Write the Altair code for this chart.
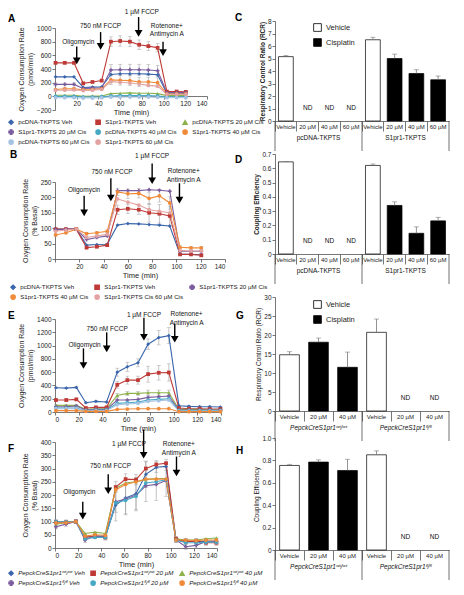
import altair as alt
import pandas as pd

FONT = "Liberation Sans"
BLUE, RED, GREEN, PURPLE = "#3A66AC", "#BF3A36", "#8DB24C", "#7A5C9E"
CYAN, ORANGE, PINK, LBLUE = "#45A8C4", "#F08A38", "#E3A3A1", "#A7C3E4"

a_time = [0.5, 9, 17.5, 26, 34.5, 43, 51.5, 60, 69, 77.5, 86, 94.5, 103, 112, 120.5]
a_names = ["pcDNA-TKPTS Veh", "S1pr1-TKPTS Veh", "pcDNA-TKPTS 20 µM Cis",
           "S1pr1-TKPTS 20 µM Cis", "pcDNA-TKPTS 40 µM Cis", "S1pr1-TKPTS 40 µM Cis",
           "pcDNA-TKPTS 60 µM Cis", "S1pr1-TKPTS 60 µM Cis"]
a_pc_veh = [285, 285, 285, 130, 135, 140, 320, 330, 330, 330, 325, 315, 45, 45, 40]
a_s1_veh = [490, 490, 490, 190, 210, 230, 800, 810, 800, 755, 735, 710, 70, 70, 65]
a_pc_20 = [15, 15, 15, 0, 5, 5, 40, 45, 50, 45, 45, 40, 10, 10, 10]
a_s1_20 = [175, 175, 175, 115, 120, 125, 385, 390, 390, 390, 385, 375, 55, 55, 55]
a_pc_40 = [0, 0, 0, -10, -10, -5, 5, 10, 10, 10, 10, 5, -5, -5, -5]
a_s1_40 = [100, 110, 110, 95, 100, 110, 240, 235, 230, 210, 210, 200, 35, 35, 35]
a_pc_60 = [-20, -20, -20, -25, -25, -20, -10, -10, -10, -10, -10, -15, -20, -20, -20]
a_s1_60 = [90, 90, 95, 85, 90, 100, 215, 205, 195, 180, 160, 150, 30, 30, 30]
a_err_s1_veh = [15, 15, 15, 10, 10, 10, 70, 75, 75, 70, 65, 60, 15, 15, 15]
a_err_s1_20 = [20, 20, 20, 15, 15, 15, 80, 80, 80, 80, 80, 80, 15, 15, 15]
a_err_s1_40 = [15, 15, 15, 10, 10, 10, 70, 70, 70, 70, 70, 70, 10, 10, 10]

b_time = [0.5, 9, 17.5, 26, 34.5, 43, 51.5, 60, 69, 77.5, 86, 94.5, 103, 112, 120.5]
b_names = ["pcDNA-TKPTS Veh", "S1pr1-TKPTS Veh", "S1pr1-TKPTS 20 µM Cis",
           "S1pr1-TKPTS 40 µM Cis", "S1pr1-TKPTS Cis 60 µM Cis"]
b_pc_veh = [97, 97, 98, 45, 47, 48, 110, 115, 114, 112, 110, 107, 15, 15, 14]
b_s1_veh = [97, 97, 97, 37, 40, 45, 160, 163, 160, 150, 147, 140, 15, 15, 12]
b_s1_20 = [95, 96, 97, 63, 70, 75, 222, 222, 222, 225, 223, 220, 25, 25, 25]
b_s1_40 = [78, 85, 97, 82, 85, 90, 218, 212, 213, 197, 205, 182, 38, 36, 36]
b_s1_60 = [90, 94, 97, 70, 75, 80, 195, 185, 175, 160, 155, 150, 28, 26, 26]
b_err_s1_veh = [3, 3, 3, 4, 4, 4, 15, 15, 15, 30, 30, 30, 4, 4, 4]
b_err_s1_40 = [3, 3, 3, 4, 4, 4, 12, 15, 15, 20, 20, 20, 5, 5, 5]

e_time = [0.8, 9.5, 18, 26, 34.5, 43.5, 52.5, 61, 70, 78.5, 87.5, 96, 104.5, 113, 122, 130.5, 139.5]
e_names = ["E1", "E2", "E3", "E4", "E5", "E6", "E7"]
e_blue = [365, 360, 370, 140, 160, 150, 600, 680, 740, 1020, 1120, 1150, 95, 85, 80, 80, 75]
e_red = [180, 180, 190, 60, 70, 70, 410, 480, 480, 570, 590, 595, 60, 50, 50, 45, 45]
e_green = [100, 100, 100, 40, 50, 50, 250, 280, 280, 290, 290, 290, 40, 40, 40, 35, 35]
e_purple = [80, 80, 90, 30, 40, 40, 180, 180, 190, 220, 230, 240, 30, 30, 30, 30, 30]
e_cyan = [60, 60, 60, 20, 30, 30, 130, 140, 150, 180, 190, 200, 20, 20, 20, 20, 20]
e_lblue = [50, 50, 50, 15, 20, 20, 110, 120, 130, 160, 170, 180, 15, 15, 15, 15, 15]
e_orange = [20, 20, 20, 10, 10, 10, 40, 45, 50, 50, 50, 50, 5, 5, 5, 5, 5]
e_err_blue = [10, 10, 10, 10, 10, 10, 60, 70, 60, 80, 110, 120, 10, 10, 10, 10, 10]
e_err_red = [20, 20, 20, 10, 10, 10, 50, 60, 60, 120, 110, 130, 10, 10, 10, 10, 10]
e_err_green = [10, 10, 10, 10, 10, 10, 30, 30, 30, 40, 40, 40, 10, 10, 10, 10, 10]

f_time = [0.8, 9.5, 18, 26, 34.5, 43.5, 52.5, 61, 70, 78.5, 87.5, 96, 104.5, 113, 122, 130.5, 139.5]
f_names = ["PepckCreS1pr1ʷᵗ/ʷᵗ Veh", "PepckCreS1pr1ʷᵗ/ʷᵗ 20 µM", "PepckCreS1pr1ʷᵗ/ʷᵗ 40 µM",
           "PepckCreS1pr1ᶠˡ/ᶠˡ Veh", "PepckCreS1pr1ᶠˡ/ᶠˡ 20 µM", "PepckCreS1pr1ᶠˡ/ᶠˡ 40 µM"]
f_blue = [100, 98, 100, 40, 45, 45, 162, 189, 205, 278, 305, 308, 30, 25, 25, 25, 25]
f_red = [98, 97, 100, 40, 45, 40, 230, 260, 258, 300, 315, 320, 35, 25, 25, 20, 20]
f_green = [90, 95, 100, 55, 60, 55, 225, 245, 250, 258, 262, 262, 35, 30, 30, 35, 38]
f_purple = [80, 90, 100, 30, 45, 40, 175, 185, 200, 235, 240, 255, 30, 5, 10, 25, 25]
f_cyan = [100, 98, 100, 35, 40, 40, 170, 180, 195, 245, 250, 258, 30, 20, 20, 22, 22]
f_orange = [95, 95, 100, 45, 50, 48, 220, 240, 250, 260, 260, 260, 30, 30, 28, 30, 30]
f_err_blue = [8, 8, 8, 10, 10, 10, 60, 60, 60, 50, 20, 15, 10, 10, 10, 10, 10]
f_err_purple = [8, 8, 8, 10, 10, 10, 40, 60, 60, 60, 60, 60, 10, 10, 10, 10, 10]
f_err_red = [5, 5, 5, 8, 8, 8, 20, 20, 20, 25, 15, 15, 8, 10, 10, 10, 10]

c_cats = ["Vehicle", "20 µM", "40 µM", "60 µM", "Vehicle", "20 µM", "40 µM", "60 µM"]
c_groups = ["pcDNA-TKPTS"] * 4 + ["S1pr1-TKPTS"] * 4
c_types = ["Vehicle", "Cisplatin", "Cisplatin", "Cisplatin", "Vehicle", "Cisplatin", "Cisplatin", "Cisplatin"]
c_vals = [5.15, None, None, None, 6.5, 5.0, 3.8, 3.3]
c_errs = [0.1, 0, 0, 0, 0.2, 0.35, 0.3, 0.3]
d_vals = [0.645, None, None, None, 0.62, 0.34, 0.145, 0.232]
d_errs = [0.002, 0, 0, 0, 0.01, 0.025, 0.045, 0.025]

g_cats = ["Vehicle", "20 µM", "40 µM", "Vehicle", "20 µM", "40 µM"]
g_groups = ["PepckCreS1pr1ʷᵗ/ʷᵗ"] * 3 + ["PepckCreS1pr1ᶠˡ/ᶠˡ"] * 3
g_types = ["Vehicle", "Cisplatin", "Cisplatin", "Vehicle", "Cisplatin", "Cisplatin"]
g_vals = [14.8, 18.1, 11.5, 20.7, None, None]
g_errs = [0.8, 1.1, 4.0, 3.5, 0, 0]
h_vals = [0.755, 0.785, 0.71, 0.85, None, None]
h_errs = [0.01, 0.02, 0.1, 0.035, 0, 0]


def long_df(times, names, series, errors):
    rows = []
    for n, vals in zip(names, series):
        errs = errors.get(n)
        for i, (t, v) in enumerate(zip(times, vals)):
            e = errs[i] if errs else 0
            rows.append({"t": t, "s": n, "v": v, "lo": v - e, "hi": v + e, "e": e})
    return pd.DataFrame(rows)


def line_panel(df, names, colors, shapes, ydom, yvals, w, h, ytitle, letter, lpos,
               arrows, labels, legend, x_offset=0, hide_zero=False):
    xs = alt.Scale(domain=[0, 140], nice=False, zero=False)
    ys = alt.Scale(domain=ydom, nice=False, zero=False)
    xkw = dict(values=list(range(0, 141, 20)), title="Time (min)", offset=x_offset,
               tickSize=3, labelPadding=1, titlePadding=2, titleFontSize=7.5)
    if hide_zero:
        xkw["labelExpr"] = "datum.value == 0 ? '' : datum.label"
    xax = alt.Axis(**xkw)
    yax = alt.Axis(values=yvals, title=ytitle, format="d", tickSize=3, labelPadding=1,
                   titlePadding=3)
    x = alt.X("t:Q", scale=xs, axis=xax)
    base = alt.Chart(df)
    eb = base.transform_filter("datum.e > 0")
    err = eb.mark_rule(color="#9a9a9a", strokeWidth=0.6).encode(
        x=x, y=alt.Y("lo:Q", scale=ys, axis=yax), y2="hi:Q")
    cap1 = eb.mark_tick(orient="horizontal", color="#9a9a9a", size=4, thickness=0.6).encode(
        x=x, y=alt.Y("hi:Q", scale=ys, axis=yax))
    cap2 = eb.mark_tick(orient="horizontal", color="#9a9a9a", size=4, thickness=0.6).encode(
        x=x, y=alt.Y("lo:Q", scale=ys, axis=yax))
    lines = base.mark_line(strokeWidth=1.1, point=alt.OverlayMarkDef(filled=True, size=14)).encode(
        x=x, y=alt.Y("v:Q", scale=ys, axis=yax),
        color=alt.Color("s:N", scale=alt.Scale(domain=names, range=colors), legend=legend),
        shape=alt.Shape("s:N", scale=alt.Scale(domain=names, range=shapes), legend=legend),
    )
    adf = pd.DataFrame(arrows, columns=["x", "y1", "y2"])
    shaft = alt.Chart(adf).mark_rule(color="black", strokeWidth=1.4).encode(
        x=alt.X("x:Q", scale=xs, axis=xax), y=alt.Y("y1:Q", scale=ys, axis=yax), y2="y2:Q")
    head = alt.Chart(adf).mark_point(shape="triangle-down", filled=True, color="black",
                                     size=60, opacity=1).encode(
        x=alt.X("x:Q", scale=xs, axis=xax), y=alt.Y("y2:Q", scale=ys, axis=yax))
    ldf = pd.DataFrame(labels, columns=["x", "y", "txt"])
    txt = alt.Chart(ldf).mark_text(fontSize=6.5, color="#111", lineBreak="\n").encode(
        x=alt.X("x:Q", scale=xs, axis=xax), y=alt.Y("y:Q", scale=ys, axis=yax), text="txt:N")
    let = alt.Chart(pd.DataFrame({"l": [letter]})).mark_text(
        align="left", baseline="top", fontWeight="bold", fontSize=10, color="black").encode(
        x=alt.value(lpos[0]), y=alt.value(lpos[1]), text="l:N")
    return alt.layer(err, cap1, cap2, lines, shaft, head, txt, let).properties(width=w, height=h)


def bar_panel(cats, groups, types, vals, errs, w, h, ydom, yvals, ytitle, bold, letter, lpos,
              legend, ylabel_expr=None):
    n = len(cats)
    keys = [c + "|" + g for c, g in zip(cats, groups)]
    df = pd.DataFrame({"key": keys, "cat": cats, "grp": groups, "typ": types,
                       "v": vals, "e": errs})
    df["hi"] = df["v"] + df["e"]
    xs = alt.Scale(domain=keys, paddingInner=0, paddingOuter=0)
    xax = alt.Axis(title=None, labelExpr="split(datum.value, '|')[0]", labelAngle=0,
                   bandPosition=0, tickSize=10, labelPadding=-8, labelFontSize=6,
                   labelBaseline="top")
    ys = alt.Scale(domain=ydom, nice=False)
    ykw = dict(values=yvals, title=ytitle, tickSize=3, labelPadding=1, titlePadding=2,
               titleFontSize=6.5, titleFontWeight="bold" if bold else "normal")
    if ylabel_expr:
        ykw["labelExpr"] = ylabel_expr
    yax = alt.Axis(**ykw)
    x = alt.X("key:N", scale=xs, axis=xax)
    base = alt.Chart(df)
    valid = base.transform_filter("datum.v != null")
    bars = valid.mark_bar(width={"band": 0.68}, stroke="black", strokeWidth=0.7).encode(
        x=x, y=alt.Y("v:Q", scale=ys, axis=yax),
        color=alt.Color("typ:N", scale=alt.Scale(domain=["Vehicle", "Cisplatin"],
                                                  range=["white", "black"]), legend=legend))
    eb = valid.mark_rule(color="#777", strokeWidth=0.8).encode(
        x=x, y=alt.Y("v:Q", scale=ys, axis=yax), y2="hi:Q")
    cap = valid.mark_tick(orient="horizontal", color="#777", size=5, thickness=0.8).encode(
        x=x, y=alt.Y("hi:Q", scale=ys, axis=yax))
    nd = base.transform_filter("datum.v == null").mark_text(
        text="ND", fontSize=6.5, color="#111").encode(x=x, y=alt.value(h - 13))
    half = n // 2
    sep_df = pd.DataFrame({"key": [keys[0], keys[half]]})
    seps = alt.Chart(sep_df).mark_rule(color="#333", strokeWidth=0.7).encode(
        x=alt.X("key:N", scale=xs, axis=xax, bandPosition=0),
        y=alt.value(h), y2=alt.value(h + 30))
    end = alt.Chart(pd.DataFrame({"key": [keys[-1]]})).mark_rule(color="#333", strokeWidth=0.7).encode(
        x=alt.X("key:N", scale=xs, axis=xax, bandPosition=1),
        y=alt.value(h), y2=alt.value(h + 30))
    if half % 2 == 0:
        gdf = pd.DataFrame({"key": [keys[half // 2 - 1], keys[half + half // 2 - 1]],
                            "grp": [groups[0], groups[-1]]})
        bp = 1
    else:
        gdf = pd.DataFrame({"key": [keys[half // 2], keys[half + half // 2]],
                            "grp": [groups[0], groups[-1]]})
        bp = 0.5
    glab = alt.Chart(gdf).mark_text(fontSize=6.5, color="#111", baseline="top",
                                    fontStyle="italic" if "Pepck" in groups[0] else "normal").encode(
        x=alt.X("key:N", scale=xs, axis=xax, bandPosition=bp), y=alt.value(h + 14), text="grp:N")
    let = alt.Chart(pd.DataFrame({"l": [letter]})).mark_text(
        align="left", baseline="top", fontWeight="bold", fontSize=10, color="black").encode(
        x=alt.value(lpos[0]), y=alt.value(lpos[1]), text="l:N")
    return alt.layer(bars, eb, cap, nd, seps, end, glab, let).properties(width=w, height=h)


def line_legend(x, y, italic=False):
    kw = dict(orient="none", legendX=x, legendY=y, columns=3, direction="horizontal",
              title=None, labelFontSize=6.2, symbolSize=20, symbolStrokeWidth=1.2,
              rowPadding=0, columnPadding=3, labelLimit=120, labelFont=FONT)
    if italic:
        kw["labelFontStyle"] = "italic"
    return alt.Legend(**kw)


def bar_legend(x, y):
    return alt.Legend(orient="none", legendX=x, legendY=y, title=None, symbolType="square",
                      symbolSize=60, symbolStrokeColor="black", symbolStrokeWidth=0.8,
                      labelFontSize=7.5, rowPadding=4, labelFont=FONT)


def spacer(hgt):
    return alt.Chart(pd.DataFrame({"a": [0]})).mark_point(opacity=0, size=1).encode(
        x=alt.value(0), y=alt.value(0)).properties(width=1, height=hgt)


A = line_panel(
    long_df(a_time, a_names, [a_pc_veh, a_s1_veh, a_pc_20, a_s1_20, a_pc_40, a_s1_40, a_pc_60, a_s1_60],
            {a_names[1]: a_err_s1_veh, a_names[3]: a_err_s1_20, a_names[5]: a_err_s1_40}),
    a_names, [BLUE, RED, GREEN, PURPLE, CYAN, ORANGE, LBLUE, PINK],
    ["diamond", "square", "triangle-up", "cross", "circle", "circle", "circle", "circle"],
    [-200, 1000], list(range(-200, 1001, 200)), 152, 82,
    ["Oxygen Consumption Rate", "(pmol/min)"], "A", (-47, -14),
    [(20, 730, 520), (42, 940, 730), (77, 1160, 920), (99.5, 800, 640)],
    [(21.5, 800, "Oligomycin"), (42, 1035, "750 nM FCCP"), (80, 1235, "1 µM FCCP"),
     (103, 1030, "Rotenone+\nAntimycin A")],
    line_legend(-47, 91), x_offset=-14, hide_zero=True)

B = line_panel(
    long_df(b_time, b_names, [b_pc_veh, b_s1_veh, b_s1_20, b_s1_40, b_s1_60],
            {b_names[1]: b_err_s1_veh, b_names[3]: b_err_s1_40}),
    b_names, [BLUE, RED, PURPLE, ORANGE, PINK],
    ["diamond", "square", "cross", "circle", "circle"],
    [0, 250], list(range(0, 251, 50)), 170, 77,
    ["Oxygen Consumption Rate", "(% Basal)"], "B", (-45, -32),
    [(24, 205, 150), (46, 262, 198), (80, 310, 254), (102.5, 246, 191)],
    [(24, 224, "Oligomycin"), (47, 281, "750 nM FCCP"), (80, 335, "1 µM FCCP"),
     (106, 285, "Rotenone+\nAntimycin A")],
    line_legend(-45, 102), hide_zero=True)

E = line_panel(
    long_df(e_time, e_names, [e_blue, e_red, e_green, e_purple, e_cyan, e_lblue, e_orange],
            {"E1": e_err_blue, "E2": e_err_red, "E3": e_err_green}),
    e_names, [BLUE, RED, GREEN, PURPLE, CYAN, LBLUE, ORANGE],
    ["diamond", "square", "triangle-up", "cross", "circle", "circle", "circle"],
    [0, 1400], list(range(0, 1401, 200)), 166, 93,
    ["Oxygen Consumption Rate", "(pmol/min)"], "E", (-47, -8),
    [(24, 958, 700), (43.6, 1198, 950), (75, 1420, 1125), (101, 1327, 1095)],
    [(25, 1010, "Oligomycin"), (44, 1255, "750 nM FCCP"), (75, 1465, "1 µM FCCP"),
     (111, 1470, "Rotenone+\nAntimycin A")],
    None)

F = line_panel(
    long_df(f_time, f_names, [f_blue, f_red, f_green, f_purple, f_cyan, f_orange],
            {f_names[0]: f_err_blue, f_names[3]: f_err_purple, f_names[1]: f_err_red}),
    f_names, [BLUE, RED, GREEN, PURPLE, CYAN, ORANGE],
    ["diamond", "square", "triangle-up", "cross", "circle", "circle"],
    [0, 400], list(range(0, 401, 50)), 162, 106,
    ["Oxygen Consumption Rate", "(% Basal)"], "F", (-47, 2),
    [(24, 175, 120), (46, 278, 216), (76.6, 447, 350), (105, 345, 283)],
    [(21, 210, "Oligomycin"), (48, 310, "750 nM FCCP"), (64, 393, "1 µM FCCP"),
     (107, 392, "Rotenone+\nAntimycin A")],
    line_legend(-47, 128, italic=True))

C = bar_panel(c_cats, c_groups, c_types, c_vals, c_errs, 174, 100, [0, 8], list(range(0, 9)),
              "Respiratory Control Ratio (RCR)", True, "C", (-40, -8), bar_legend(38, 2))
D = bar_panel(c_cats, c_groups, c_types, d_vals, d_errs, 174, 100, [0, 0.7],
              [0, 0.1, 0.2, 0.3, 0.4, 0.5, 0.6, 0.7], "Coupling Efficiency", True, "D", (-40, 1),
              None, "datum.value == 0 ? '0' : format(datum.value, '.1f')")
G = bar_panel(g_cats, g_groups, g_types, g_vals, g_errs, 174, 114, [0, 30], list(range(0, 31, 5)),
              "Respiratory Control Ratio (RCR)", False, "G", (-39, 14), bar_legend(38, 3))
H = bar_panel(g_cats, g_groups, g_types, h_vals, h_errs, 174, 112, [0, 1.0],
              [0, 0.2, 0.4, 0.6, 0.8, 1.0], "Coupling Efficiency", False, "H", (-39, 8),
              None, "datum.value == 0 ? '0' : format(datum.value, '.1f')")

left = alt.vconcat(spacer(18), A, spacer(72), B, spacer(60), E, spacer(30), F,
                   spacing=0, bounds="flush").resolve_scale(color="independent", shape="independent")
right = alt.vconcat(spacer(11), C, spacer(33), D, spacer(43), G, spacer(27), H,
                    spacing=0, bounds="flush").resolve_scale(color="independent")

chart = alt.hconcat(left, right, spacing=-33, padding=0).resolve_scale(
    color="independent", shape="independent"
).configure_view(stroke=None).configure_axis(
    labelFont=FONT, titleFont=FONT, labelFontSize=6.5, titleFontSize=7,
    titleFontWeight="normal", grid=False, domainColor="#555", tickColor="#555",
    labelColor="#222", titleColor="#222", domainWidth=0.8, tickWidth=0.8
).configure_text(font=FONT).configure_legend(labelFont=FONT, labelColor="#222")

chart.save("out.html", embed_options={"renderer": "svg", "actions": False})
